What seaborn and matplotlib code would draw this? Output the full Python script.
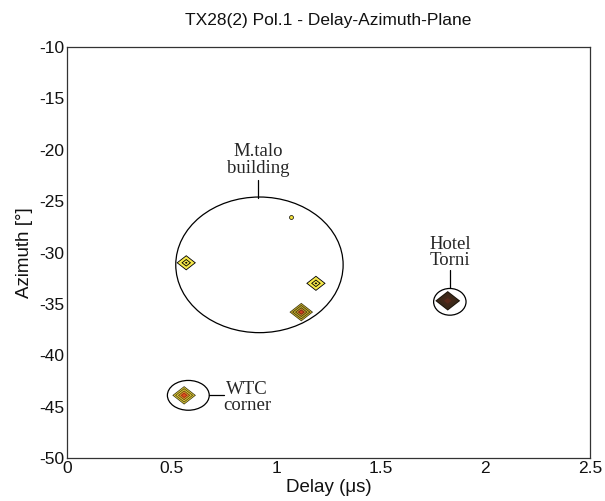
import matplotlib
matplotlib.use("Agg")
import matplotlib.pyplot as plt
from matplotlib.patches import Ellipse
import seaborn as sns

# Detected propagation paths (delay in microseconds, azimuth in degrees)
delays = [0.57, 1.19, 1.12, 1.82, 0.56]
azimuths = [-31.0, -33.0, -35.8, -34.7, -43.9]

# Weak extra path
weak_delay = [1.07]
weak_azimuth = [-26.5]

# Cluster outlines: centre, width (us), height (deg)
cluster_x = [0.92, 1.83, 0.58]
cluster_y = [-31.2, -34.8, -43.9]
cluster_w = [0.80, 0.155, 0.20]
cluster_h = [13.2, 2.6, 2.9]

xticks = [0, 0.5, 1, 1.5, 2, 2.5]
xticklabels = ["0", "0.5", "1", "1.5", "2", "2.5"]
yticks = [-10, -15, -20, -25, -30, -35, -40, -45, -50]

# Marker styling: full width in points and concentric colour rings (outer -> inner)
widths_pt = [14.0, 14.0, 17.0, 18.0, 17.0]
bright = [(1.0, "#000000"), (0.86, "#f6e84a"), (0.5, "#000000"),
          (0.36, "#f6e84a"), (0.14, "#000000")]
olive = [(1.0, "#3a3410"), (0.9, "#c8b030"), (0.78, "#4a4010"),
         (0.66, "#d0b830"), (0.54, "#4a4010"), (0.42, "#c89030"),
         (0.30, "#7a2a10"), (0.18, "#d04020")]
dark = [(1.0, "#1a120a"), (0.88, "#3a2818"), (0.6, "#42281a"),
        (0.3, "#5a2a1a")]
gold = [(1.0, "#3a3410"), (0.9, "#e0cc40"), (0.78, "#5a5010"),
        (0.66, "#e8d040"), (0.54, "#6a5010"), (0.42, "#e09030"),
        (0.30, "#a03010"), (0.18, "#e05020")]
rings = [bright, bright, olive, dark, gold]

# Flattened diamond outline
diamond = [(-1.0, 0.0), (0.0, 0.78), (1.0, 0.0), (0.0, -0.78), (-1.0, 0.0)]

sns.set_theme(style="white")
plt.rcParams["font.family"] = ["Liberation Sans", "DejaVu Sans"]
plt.rcParams["axes.unicode_minus"] = False

fig = plt.figure(figsize=(6.05, 5.01), dpi=100)
ax = fig.add_axes([0.1107, 0.0858, 0.8645, 0.8204])

for x, y, w, layer in zip(delays, azimuths, widths_pt, rings):
    for i, (frac, col) in enumerate(layer):
        sns.scatterplot(x=[x], y=[y], ax=ax, marker=diamond,
                        s=(w * frac) ** 2, color=col, edgecolor="none",
                        linewidth=0, legend=False, zorder=3 + i * 0.01)

sns.scatterplot(x=weak_delay, y=weak_azimuth, ax=ax, marker="o", s=8,
                color="#f2e03a", edgecolor="#000000", linewidth=0.5,
                legend=False, zorder=3)

for cx, cy, w, h in zip(cluster_x, cluster_y, cluster_w, cluster_h):
    ax.add_patch(Ellipse((cx, cy), w, h, fill=False, edgecolor="#000000",
                         linewidth=0.9, zorder=2))

# Cluster labels with leader lines
serif = ["Liberation Serif", "DejaVu Serif"]
ax.plot([0.912, 0.912], [-22.9, -24.65], color="#000000", lw=0.9)
ax.text(0.912, -21.0, "M.talo\nbuilding", ha="center", va="center",
        family=serif, fontsize=13.5, linespacing=0.95)
ax.plot([1.83, 1.83], [-31.7, -33.5], color="#000000", lw=0.9)
ax.text(1.83, -30.0, "Hotel\nTorni", ha="center", va="center",
        family=serif, fontsize=13.5, linespacing=0.95)
ax.plot([0.68, 0.752], [-43.9, -43.9], color="#000000", lw=0.9)
ax.text(0.86, -44.1, "WTC\ncorner", ha="center", va="center",
        family=serif, fontsize=13.5, linespacing=0.95)

ax.set_xlim(0, 2.5)
ax.set_ylim(-50, -10)
ax.set_xticks(xticks)
ax.set_xticklabels(xticklabels)
ax.set_yticks(yticks)
ax.tick_params(length=0, pad=2, labelsize=12.5, colors="#111111")
for side in ax.spines.values():
    side.set_visible(True)
    side.set_color("#333333")
    side.set_linewidth(0.9)

ax.set_xlabel("Delay (\u03bcs)", fontsize=13.5, labelpad=2, color="#111111")
ax.set_ylabel("Azimuth [\u00b0]", fontsize=13.5, labelpad=4, color="#111111")
ax.set_title("TX28(2) Pol.1 - Delay-Azimuth-Plane", fontsize=12.5, pad=16,
             color="#111111")

fig.savefig("out.png", dpi=100)
